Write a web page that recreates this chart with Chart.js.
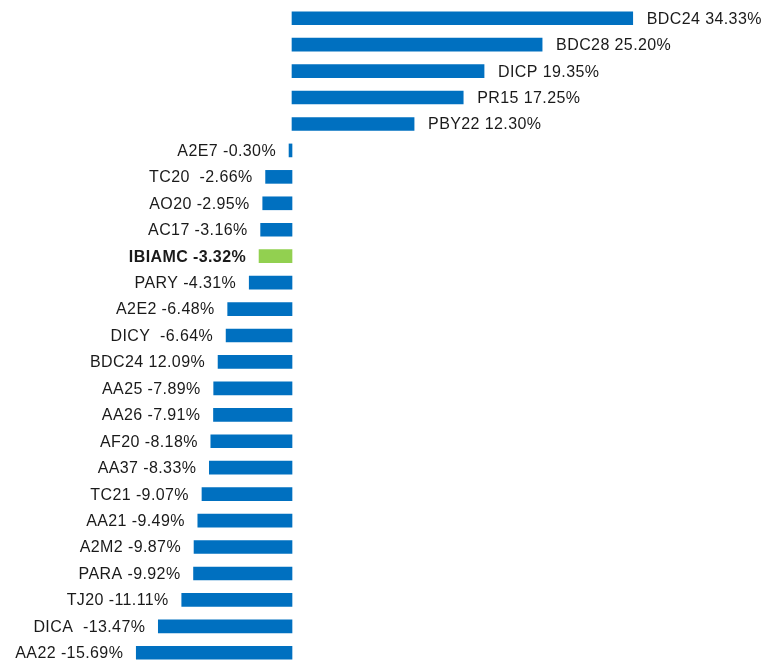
<!DOCTYPE html>
<html>
<head>
<meta charset="utf-8">
<script src="https://cdn.jsdelivr.net/npm/chart.js@4"></script>
<style>
  html, body { margin: 0; padding: 0; background: #fff; overflow: hidden; }
  .wrap { width: 771px; height: 666px; position: relative; }
</style>
</head>
<body>
<div class="wrap"><canvas id="myChart"></canvas></div>
<script>
// bar labels (text as printed next to each bar)
const labels = [
  'BDC24 34.33%', 'BDC28 25.20%', 'DICP 19.35%', 'PR15 17.25%', 'PBY22 12.30%',
  'A2E7 -0.30%', 'TC20  -2.66%', 'AO20 -2.95%', 'AC17 -3.16%', 'IBIAMC -3.32%',
  'PARY -4.31%', 'A2E2 -6.48%', 'DICY  -6.64%', 'BDC24 12.09%', 'AA25 -7.89%',
  'AA26 -7.91%', 'AF20 -8.18%', 'AA37 -8.33%', 'TC21 -9.07%', 'AA21 -9.49%',
  'A2M2 -9.87%', 'PARA -9.92%', 'TJ20 -11.11%', 'DICA  -13.47%', 'AA22 -15.69%'
];
const values = [
  34.33, 25.20, 19.35, 17.25, 12.30,
  -0.30, -2.66, -2.95, -3.16, -3.32,
  -4.31, -6.48, -6.64, -7.45, -7.89,
  -7.91, -8.18, -8.33, -9.07, -9.49,
  -9.87, -9.92, -11.11, -13.47, -15.69
];
const highlight = 'IBIAMC -3.32%';

const blue = '#0070C0';
const green = '#92D050';

const barLabels = {
  id: 'barLabels',
  afterDatasetsDraw(chart) {
    const { ctx } = chart;
    const meta = chart.getDatasetMeta(0);
    ctx.save();
    ctx.fillStyle = '#1a1a1a';
    ctx.textBaseline = 'middle';
    ctx.letterSpacing = '0.4px';
    meta.data.forEach((bar, i) => {
      const txt = labels[i];
      ctx.font = (txt === highlight ? 'bold ' : '') + '16px "Liberation Sans", Arial, sans-serif';
      if (values[i] >= 0) {
        ctx.textAlign = 'left';
        ctx.fillText(txt, bar.x + 14, bar.y + 1);
      } else {
        ctx.textAlign = 'right';
        ctx.fillText(txt, bar.x - 13, bar.y + 1);
      }
    });
    ctx.restore();
  }
};

const data = {
  labels: labels,
  datasets: [{
    data: values,
    backgroundColor: labels.map(l => l === highlight ? green : blue),
    borderWidth: 0,
    barThickness: 13
  }]
};

const config = {
  type: 'bar',
  data: data,
  plugins: [barLabels],
  options: {
    indexAxis: 'y',
    responsive: true,
    maintainAspectRatio: false,
    animation: false,
    layout: { padding: { top: 5, bottom: 0, left: 0, right: 0 } },
    scales: {
      x: { display: false, min: -29.42, max: 48.26 },
      y: { display: false }
    },
    plugins: {
      legend: { display: false },
      tooltip: { enabled: false }
    }
  }
};

var myChart = new Chart(document.getElementById('myChart'), config);
</script>
</body>
</html>
